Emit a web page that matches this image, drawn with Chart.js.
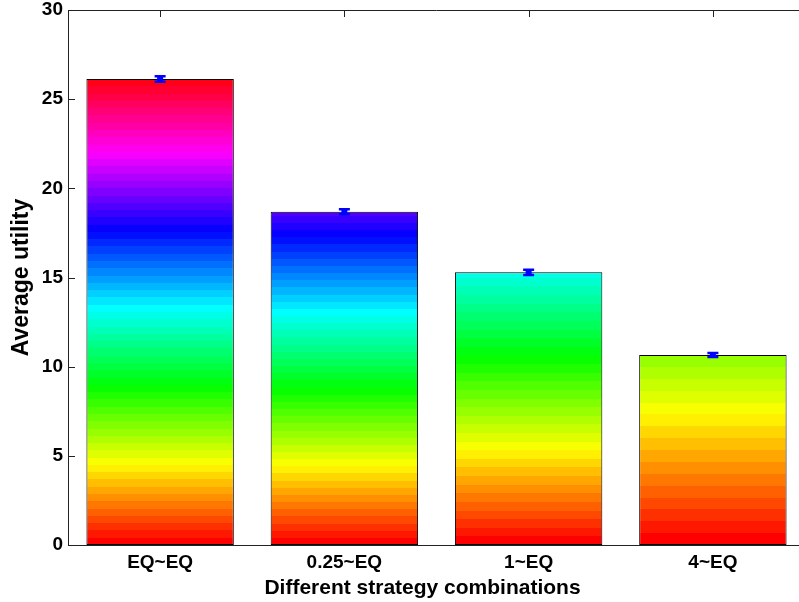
<!DOCTYPE html>
<html>
<head>
<meta charset="utf-8">
<script src="https://cdn.jsdelivr.net/npm/chart.js@4.4.1/dist/chart.umd.min.js"></script>
<style>
  html, body { margin: 0; padding: 0; background: #fff; overflow: hidden; }
  #wrap { width: 806px; height: 602px; }
</style>
</head>
<body>
<div id="wrap"><canvas id="utilChart"></canvas></div>
<script>
// data
const categories = ['EQ~EQ', '0.25~EQ', '1~EQ', '4~EQ'];
const avgUtility = [26.13, 18.69, 15.29, 10.65];
const errUtility = [0.15, 0.14, 0.15, 0.11];
const yTicks = [0, 5, 10, 15, 20, 25, 30];
const xTitle = 'Different strategy combinations';
const yTitle = 'Average utility';

// hue reached at the top of each bar (hsv colormap, 64 steps)
const topHue = [360, 262, 178, 90];
const hueStep = 360 / 64;

const FONT = "'Liberation Sans', Arial, sans-serif";

function barGradient(c) {
    const chart = c.chart;
    if (!chart.chartArea || c.dataIndex === undefined) return '#f00';
    const y = chart.scales.y;
    const i = c.dataIndex;
    const y0 = y.getPixelForValue(0);
    const y1 = y.getPixelForValue(avgUtility[i]);
    const g = chart.ctx.createLinearGradient(0, y0, 0, y1);
    const h = topHue[i];
    const n = Math.ceil(h / hueStep);
    for (let k = 0; k < n; k++) {
        const a = Math.min(1, k * hueStep / h);
        const b = Math.min(1, (k + 1) * hueStep / h);
        const col = 'hsl(' + (k * hueStep) + ',100%,50%)';
        g.addColorStop(a, col);
        g.addColorStop(b, col);
    }
    return g;
}

// top line + inward ticks, like a matlab box
const boxPlugin = {
    id: 'box',
    beforeDatasetsDraw(chart) {
        const {ctx, chartArea: a, scales: {x, y}} = chart;
        ctx.save();
        ctx.strokeStyle = '#222';
        ctx.lineWidth = 1;
        ctx.beginPath();
        ctx.moveTo(a.left, a.top + 0.5);
        ctx.lineTo(a.right, a.top + 0.5);
        yTicks.forEach(v => {
            const py = Math.round(y.getPixelForValue(v)) + 0.5;
            ctx.moveTo(a.left, py);
            ctx.lineTo(a.left + 7, py);
        });
        categories.forEach((c, i) => {
            const px = Math.round(x.getPixelForValue(i)) + 0.5;
            ctx.moveTo(px, a.top);
            ctx.lineTo(px, a.top + 7);
        });
        ctx.stroke();

        // x label sits a bit left of the axis centre in the original
        ctx.fillStyle = '#000';
        ctx.font = 'bold 21px ' + FONT;
        ctx.textAlign = 'center';
        ctx.textBaseline = 'alphabetic';
        ctx.fillText(xTitle, (a.left + a.right) / 2 - 14, chart.height - 8);
        ctx.restore();
    }
};

const errPlugin = {
    id: 'errbars',
    afterDatasetsDraw(chart) {
        const {ctx, scales: {x, y}} = chart;
        ctx.save();
        ctx.strokeStyle = '#0000ff';
        avgUtility.forEach((v, i) => {
            const px = x.getPixelForValue(i);
            const hi = y.getPixelForValue(v + errUtility[i]);
            const lo = y.getPixelForValue(v - errUtility[i]);
            ctx.lineWidth = 6;
            ctx.beginPath();
            ctx.moveTo(px, hi);
            ctx.lineTo(px, lo);
            ctx.stroke();
            ctx.lineWidth = 2.5;
            ctx.beginPath();
            ctx.moveTo(px - 5.5, hi);
            ctx.lineTo(px + 5.5, hi);
            ctx.moveTo(px - 5.5, lo);
            ctx.lineTo(px + 5.5, lo);
            ctx.stroke();
        });
        ctx.restore();
    }
};

const ctx = document.getElementById('utilChart').getContext('2d');
const utilChart = new Chart(ctx, {
    type: 'bar',
    data: {
        labels: categories,
        datasets: [{
            label: yTitle,
            data: avgUtility,
            backgroundColor: barGradient,
            borderColor: '#000',
            borderWidth: 1,
            borderSkipped: false,
            categoryPercentage: 0.8,
            barPercentage: 1.0
        }]
    },
    options: {
        responsive: true,
        maintainAspectRatio: false,
        animation: false,
        layout: { padding: { top: 10, right: 1, left: 0, bottom: 0 } },
        plugins: {
            legend: { display: false },
            tooltip: { enabled: false }
        },
        scales: {
            x: {
                grid: { display: false, drawTicks: false },
                border: { display: true, color: '#222', width: 1 },
                ticks: {
                    color: '#000',
                    padding: 8,
                    font: { family: FONT, size: 19, weight: 'bold', lineHeight: 1 }
                },
                afterFit(s) { s.height = 57; s.paddingLeft = 0; s.paddingRight = 0; }
            },
            y: {
                min: 0,
                max: 30,
                afterBuildTicks(s) { s.ticks = yTicks.map(v => ({ value: v })); },
                grid: { display: false, drawTicks: false },
                border: { display: true, color: '#222', width: 1 },
                ticks: {
                    color: '#000',
                    padding: 5,
                    font: { family: FONT, size: 19, weight: 'bold', lineHeight: 1 }
                },
                title: {
                    display: true,
                    text: yTitle,
                    color: '#000',
                    padding: { top: 10, bottom: 0 },
                    font: { family: FONT, size: 23, weight: 'bold', lineHeight: 1 }
                },
                afterFit(s) { s.width = 68; s.paddingTop = 0; s.paddingBottom = 0; }
            }
        }
    },
    plugins: [boxPlugin, errPlugin]
});
</script>
</body>
</html>
